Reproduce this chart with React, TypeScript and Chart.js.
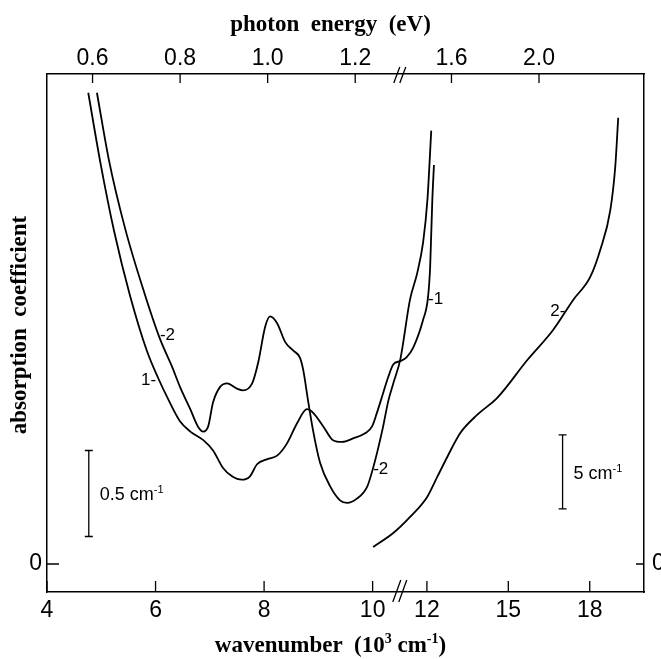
import React, { useEffect, useRef } from "react";
import { Chart, registerables } from "chart.js";

Chart.register(...registerables);

// ---------------- data ----------------
// wavenumber in 10^3 cm^-1 ; absorption in cm^-1 (relative to the zero marks)
const sample1Wavenumber = [4.76, 4.98, 5.24, 5.53, 5.84, 6.05, 6.23, 6.45, 6.64, 6.88, 7.06, 7.24, 7.41, 7.59, 7.74, 7.87, 8.06, 8.24, 8.42, 8.61, 8.79, 8.9, 9.09, 9.27, 9.44, 9.64, 9.86, 9.99, 10.08, 10.19, 10.29, 10.38, 10.51, 10.62, 10.75, 10.93, 11.02, 11.06, 11.1, 11.13];
const sample1Absorption = [2.74, 2.34, 1.93, 1.56, 1.24, 1.08, 0.96, 0.83, 0.77, 0.72, 0.66, 0.56, 0.51, 0.49, 0.51, 0.58, 0.61, 0.63, 0.7, 0.82, 0.9, 0.88, 0.8, 0.72, 0.71, 0.73, 0.76, 0.8, 0.88, 0.99, 1.09, 1.16, 1.18, 1.2, 1.26, 1.42, 1.55, 1.73, 2.12, 2.32];

const sample2Wavenumber = [4.92, 5.14, 5.44, 5.79, 6.08, 6.3, 6.45, 6.64, 6.78, 6.88, 6.97, 7.06, 7.19, 7.32, 7.5, 7.61, 7.78, 7.89, 8.02, 8.11, 8.24, 8.39, 8.54, 8.66, 8.72, 8.81, 8.9, 9.03, 9.22, 9.4, 9.53, 9.71, 9.9, 10.01, 10.18, 10.29, 10.38, 10.51, 10.69, 10.82, 10.93, 11.01, 11.08];
const sample2Absorption = [2.74, 2.35, 1.95, 1.58, 1.31, 1.15, 1.03, 0.9, 0.8, 0.77, 0.8, 0.94, 1.03, 1.05, 1.02, 1.01, 1.05, 1.17, 1.38, 1.44, 1.4, 1.29, 1.24, 1.2, 1.13, 0.95, 0.78, 0.59, 0.45, 0.37, 0.355, 0.38, 0.45, 0.56, 0.78, 0.95, 1.05, 1.19, 1.54, 1.69, 1.87, 2.12, 2.52];

// sample 2, high-energy range (right-hand scale)
const sample2HighWavenumber = [10.02, 10.76, 11.38, 12.01, 12.38, 12.75, 13.23, 13.85, 14.59, 15.7, 16.65, 17.39, 18.02, 18.39, 18.76, 18.94, 19.05];
const sample2HighAbsorption = [1.15, 2.09, 3.18, 4.53, 5.88, 7.23, 8.85, 10.07, 11.22, 13.78, 15.81, 17.84, 19.39, 21.22, 23.92, 26.82, 30.14];

const bottomTicksLow = [4, 6, 8, 10];
const bottomTicksHigh = [12, 15, 18];
const topTicksLow = [0.6, 0.8, 1.0, 1.2];
const topTicksHigh = [1.6, 2.0];
const topTickLabels = ["0.6", "0.8", "1.0", "1.2", "1.6", "2.0"];
const zeroTick = [0];

// ---------------- axis mapping (broken axis) ----------------
const BREAK_U = 10.5;
const lowU = (k: number) => k;
const highU = (k: number) => 5 + k / 2;
const EV_PER_KK = 0.123984; // eV per 10^3 cm^-1

const FONT_SANS = '"Liberation Sans", Arial, sans-serif';
const FONT_SERIF = '"Liberation Serif", "Times New Roman", serif';

const toPoints = (xs: number[], ys: number[], f: (k: number) => number) =>
  xs.map((k, i) => ({ x: f(k), y: ys[i] }));

const bottomTickU = [...bottomTicksLow.map(lowU), ...bottomTicksHigh.map(highU)];
const bottomTickLabels = [...bottomTicksLow, ...bottomTicksHigh].map(String);
const topTickU = [
  ...topTicksLow.map((e) => lowU(e / EV_PER_KK)),
  ...topTicksHigh.map((e) => highU(e / EV_PER_KK)),
];

type Seg = { t: string; sup?: boolean };

function drawRich(ctx: CanvasRenderingContext2D, segs: Seg[], x: number, y: number, align: string, base: string, sup: string, raise: number) {
  const widths = segs.map((s) => {
    ctx.font = s.sup ? sup : base;
    return ctx.measureText(s.t).width;
  });
  const total = widths.reduce((a, b) => a + b, 0);
  let cx = align === "center" ? x - total / 2 : align === "right" ? x - total : x;
  ctx.textAlign = "left";
  ctx.textBaseline = "alphabetic";
  segs.forEach((s, i) => {
    ctx.font = s.sup ? sup : base;
    ctx.fillText(s.t, cx, s.sup ? y - raise : y);
    cx += widths[i];
  });
}

const decorPlugin = {
  id: "decor",
  afterDraw(chart: any) {
    const ctx: CanvasRenderingContext2D = chart.ctx;
    const { x, x2, y, y2 } = chart.scales;
    const area = chart.chartArea;
    ctx.save();
    ctx.strokeStyle = "#000";
    ctx.fillStyle = "#000";
    ctx.lineWidth = 1.3;

    // inward tick marks
    ctx.beginPath();
    x.ticks.forEach((t: any) => {
      const px = x.getPixelForValue(t.value);
      ctx.moveTo(px, area.bottom);
      ctx.lineTo(px, area.bottom - 11);
    });
    x2.ticks.forEach((t: any) => {
      const px = x2.getPixelForValue(t.value);
      ctx.moveTo(px, area.top);
      ctx.lineTo(px, area.top + 9);
    });
    y.ticks.forEach((t: any) => {
      const py = y.getPixelForValue(t.value);
      ctx.moveTo(area.left, py);
      ctx.lineTo(area.left + 12, py);
    });
    y2.ticks.forEach((t: any) => {
      const py = y2.getPixelForValue(t.value);
      ctx.moveTo(area.right, py);
      ctx.lineTo(area.right - 8, py);
    });
    ctx.stroke();

    // axis break marks
    const bx = x.getPixelForValue(BREAK_U);
    ctx.beginPath();
    [-3, 3].forEach((o) => {
      ctx.moveTo(bx + o - 4, area.bottom + 10);
      ctx.lineTo(bx + o + 4, area.bottom - 12);
      ctx.moveTo(bx + o - 3, area.top + 9);
      ctx.lineTo(bx + o + 3, area.top - 7);
    });
    ctx.stroke();

    // scale bars
    const base = `18px ${FONT_SANS}`;
    const sup = `11px ${FONT_SANS}`;
    const bar = (px: number, pTop: number, pBot: number, label: string) => {
      ctx.beginPath();
      ctx.moveTo(px, pTop);
      ctx.lineTo(px, pBot);
      ctx.moveTo(px - 4, pTop);
      ctx.lineTo(px + 4, pTop);
      ctx.moveTo(px - 4, pBot);
      ctx.lineTo(px + 4, pBot);
      ctx.stroke();
      drawRich(ctx, [{ t: label }, { t: "-1", sup: true }], px + 11, (pTop + pBot) / 2 + 7, "left", base, sup, 7);
    };
    bar(x.getPixelForValue(4.77), y.getPixelForValue(0.66), y.getPixelForValue(0.16), "0.5 cm");
    bar(x.getPixelForValue(highU(17.0)), y2.getPixelForValue(8.72), y2.getPixelForValue(3.72), "5 cm");

    // curve labels
    ctx.font = `17px ${FONT_SANS}`;
    ctx.textBaseline = "middle";
    const lab = (t: string, px: number, py: number, align: CanvasTextAlign) => {
      ctx.textAlign = align;
      ctx.fillText(t, px, py);
    };
    lab("1-", x.getPixelForValue(lowU(6.01)), y.getPixelForValue(1.07), "right");
    lab("-2", x.getPixelForValue(lowU(6.08)), y.getPixelForValue(1.33), "left");
    lab("-1", x.getPixelForValue(lowU(11.02)), y.getPixelForValue(1.54), "left");
    lab("-2", x.getPixelForValue(lowU(10.01)), y.getPixelForValue(0.55), "left");
    lab("2-", x.getPixelForValue(highU(17.1)), y2.getPixelForValue(17.1), "right");

    // axis titles
    const tf = `bold 23px ${FONT_SERIF}`;
    const cw = chart.width;
    ctx.font = tf;
    ctx.textAlign = "center";
    ctx.textBaseline = "alphabetic";
    ctx.fillText("photon  energy  (eV)", cw / 2, 31);
    drawRich(
      ctx,
      [{ t: "wavenumber  (10" }, { t: "3", sup: true }, { t: " cm" }, { t: "-1", sup: true }, { t: ")" }],
      cw / 2,
      652,
      "center",
      tf,
      `bold 14px ${FONT_SERIF}`,
      9
    );
    ctx.save();
    ctx.translate(26, 325);
    ctx.rotate(-Math.PI / 2);
    ctx.font = tf;
    ctx.textAlign = "center";
    ctx.fillText("absorption  coefficient", 0, 0);
    ctx.restore();

    ctx.restore();
  },
};

const tickFont = { family: FONT_SANS, size: 23 };
const axisCommon = {
  type: "linear" as const,
  grid: { display: true, drawOnChartArea: false, drawTicks: false },
  border: { display: true, color: "#000", width: 1.5 },
};

export default function App() {
  const ref = useRef<HTMLCanvasElement | null>(null);
  useEffect(() => {
    if (!ref.current) return;
    const lineStyle = {
      borderColor: "#000",
      borderWidth: 1.8,
      pointRadius: 0,
      fill: false,
      cubicInterpolationMode: "monotone" as const,
    };
    const chart = new Chart(ref.current, {
      type: "line",
      data: {
        datasets: [
          { ...lineStyle, label: "1", data: toPoints(sample1Wavenumber, sample1Absorption, lowU), xAxisID: "x", yAxisID: "y" },
          { ...lineStyle, label: "2", data: toPoints(sample2Wavenumber, sample2Absorption, lowU), xAxisID: "x", yAxisID: "y" },
          { ...lineStyle, label: "2 (high)", data: toPoints(sample2HighWavenumber, sample2HighAbsorption, highU), xAxisID: "x", yAxisID: "y2" },
        ],
      },
      options: {
        responsive: false,
        animation: false,
        devicePixelRatio: 1,
        layout: { padding: 0 },
        plugins: { legend: { display: false }, tooltip: { enabled: false } },
        scales: {
          x: {
            ...axisCommon,
            position: "bottom",
            min: 4,
            max: 15,
            afterBuildTicks: (s: any) => {
              s.ticks = bottomTickU.map((v) => ({ value: v }));
            },
            afterFit: (s: any) => {
              s.height = 67;
            },
            ticks: {
              autoSkip: false,
              maxRotation: 0,
              color: "#000",
              font: tickFont,
              padding: 5,
              callback: (_v: any, i: number) => bottomTickLabels[i],
            },
          },
          x2: {
            ...axisCommon,
            position: "top",
            min: 4,
            max: 15,
            afterBuildTicks: (s: any) => {
              s.ticks = topTickU.map((v) => ({ value: v }));
            },
            afterFit: (s: any) => {
              s.height = 74;
            },
            ticks: {
              autoSkip: false,
              maxRotation: 0,
              color: "#000",
              font: tickFont,
              padding: 2,
              callback: (_v: any, i: number) => topTickLabels[i],
            },
          },
          y: {
            ...axisCommon,
            position: "left",
            min: -0.1628,
            max: 2.849,
            afterBuildTicks: (s: any) => {
              s.ticks = zeroTick.map((v) => ({ value: v }));
            },
            afterFit: (s: any) => {
              s.width = 47;
            },
            ticks: { color: "#000", font: tickFont, padding: 5, callback: () => "0" },
          },
          y2: {
            ...axisCommon,
            position: "right",
            min: -1.892,
            max: 33.1,
            afterBuildTicks: (s: any) => {
              s.ticks = zeroTick.map((v) => ({ value: v }));
            },
            afterFit: (s: any) => {
              s.width = 17;
            },
            ticks: { color: "#000", font: tickFont, padding: 8, callback: () => "0" },
          },
        },
      },
      plugins: [decorPlugin],
    } as any);
    return () => chart.destroy();
  }, []);

  return (
    <div style={{ position: "absolute", left: 0, top: 0, width: 661, height: 659, background: "#fff" }}>
      <canvas ref={ref} width={661} height={659} style={{ display: "block" }} />
    </div>
  );
}
